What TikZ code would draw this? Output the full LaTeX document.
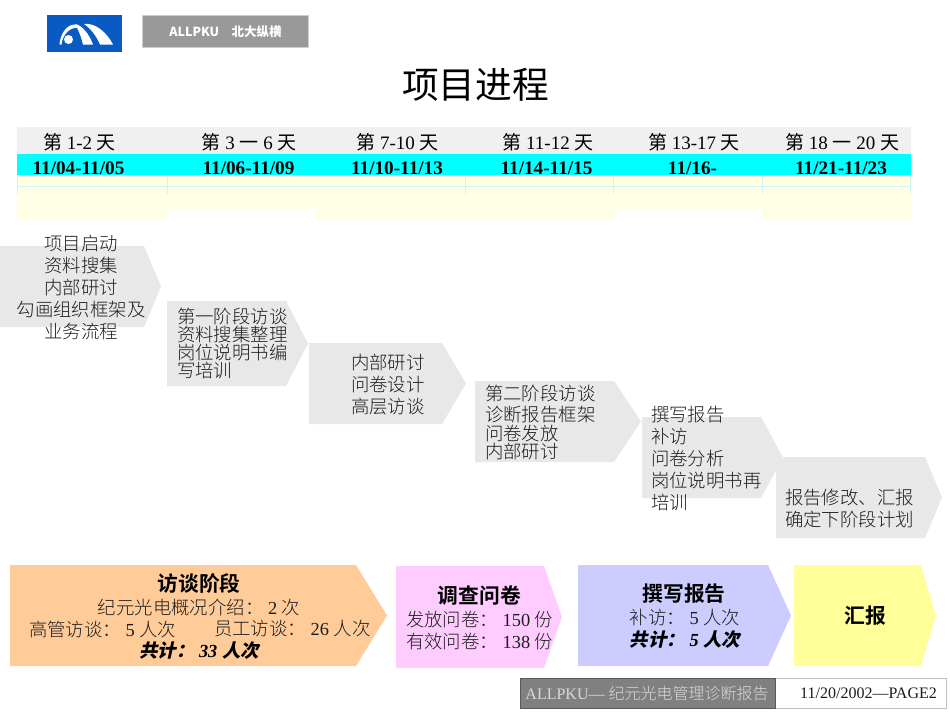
\documentclass[tikz,border=0pt]{standalone}
\usepackage{fontspec}
\setmainfont{Liberation Serif}
\newfontfamily\cjkfam{Noto Sans CJK SC}[UprightFont=* Light,BoldFont=* Bold]
\newfontfamily\cjkslant{Noto Sans CJK SC}[FakeSlant=0.22]
\newfontfamily\cjksans{Noto Sans CJK SC}
\newcommand{\zh}[1]{{\cjkfam #1}}
\newcommand{\zhr}[1]{{\cjksans #1}}
\newcommand{\zhbi}[1]{{\cjkslant\bfseries #1}}
\definecolor{headgrey}{HTML}{F0F0F0}
\definecolor{paleyellow}{HTML}{FFFFE5}
\definecolor{palecyan}{HTML}{D0F5F0}
\definecolor{stepgrey}{HTML}{E8E8E8}
\definecolor{orangefill}{HTML}{FFCC99}
\definecolor{pinkfill}{HTML}{FFCCFF}
\definecolor{bluefill}{HTML}{CCCCFF}
\definecolor{yellowfill}{HTML}{FFFF99}
\definecolor{logoblue}{HTML}{0A5AC4}
\definecolor{badgegrey}{HTML}{999999}
\definecolor{footdark}{HTML}{808080}
\definecolor{inktext}{HTML}{1C1C1C}
\definecolor{rowcyan}{HTML}{00FFFF}
\tikzset{
  txt/.style={inner sep=0pt,outer sep=0pt,text=inktext},
  bodytext/.style={txt,align=left,font=\fontsize{18.4}{22}\selectfont},
  tighttext/.style={txt,align=left,font=\fontsize{18.4}{18}\selectfont},
  centertext/.style={txt,align=center,font=\fontsize{18.4}{22}\selectfont},
  headtext/.style={inner sep=0pt,text=black,font=\fontsize{19}{22}\selectfont},
  datetext/.style={inner sep=0pt,text=black,font=\fontsize{19.2}{22}\selectfont\bfseries},
  boldtitle/.style={inner sep=0pt,text=black,font=\fontsize{20.8}{24}\selectfont\bfseries\cjkfam},
}
\begin{document}
\begin{tikzpicture}[x=1pt,y=-1pt]
\useasboundingbox (0,0) rectangle (950,713);
% logo
\fill[logoblue] (47,15) rectangle (122,52);
\fill[white] (59.5,44.5) .. controls (60.5,33) and (67,24.5) .. (75,24.5) .. controls (77,25) and (78,26) .. (79,28)
  .. controls (71,26.5) and (63,33) .. (61.5,44.5) -- cycle;
\fill[white] (68.5,39.5) circle (4.5);
\fill[white] (75,24) .. controls (82,25) and (89,34) .. (93,44.5) -- (83,44.5) .. controls (81,36) and (78,29) .. (75,24) -- cycle;
\fill[white] (84,24) .. controls (96,22.5) and (107,33) .. (113,44.5) -- (100,44.5) .. controls (96,35) and (90,28) .. (84,24) -- cycle;
% badge
\draw[fill=badgegrey,draw=black!20,line width=.8pt] (142,15.5) rectangle (308.5,47);
\node[inner sep=0pt,text=white,font=\fontsize{12.5}{15}\selectfont\sffamily\bfseries] (badge) at (225.5,32) {{\cjksans\bfseries ALLPKU\quad 北大纵横}};
% title
\node[inner sep=0pt,text=black,font=\fontsize{36.7}{40}\selectfont] (title) at (475.5,85) {\zhr{项目进程}};
% table
\fill[headgrey] (17,127) rectangle (911,154);
\fill[rowcyan] (17,154) rectangle (911,175);
\node[datetext] (d1) at (78.5,168) {11/04-11/05};
\node[datetext] (d2) at (248.5,168) {11/06-11/09};
\node[datetext] (d3) at (397,168) {11/10-11/13};
\node[datetext] (d4) at (546.5,168) {11/14-11/15};
\node[datetext] (d5) at (692.5,168) {11/16-};
\node[datetext] (d6) at (841,168) {11/21-11/23};
\fill[paleyellow] (17,175) rectangle (911,220);
\fill[white] (167,209) rectangle (316,220);
\fill[white] (615,209) rectangle (762,220);
\draw[palecyan,line width=.6pt] (17,175) -- (911,175) (17,186) -- (911,186);
\draw[palecyan,line width=.6pt] (17.3,175) -- (17.3,194) (167,175) -- (167,194) (465.5,175) -- (465.5,194)
  (613.5,175) -- (613.5,194) (762.5,175) -- (762.5,194) (910.7,175) -- (910.7,194);
\node[headtext] (h1) at (79.5,142) {\zhr{第} 1-2 \zhr{天}};
\node[headtext] (h2) at (249,142) {\zhr{第} 3 \zhr{一} 6 \zhr{天}};
\node[headtext] (h3) at (397.5,142) {\zhr{第} 7-10 \zhr{天}};
\node[headtext] (h4) at (548,142) {\zhr{第} 11-12 \zhr{天}};
\node[headtext] (h5) at (694,142) {\zhr{第} 13-17 \zhr{天}};
\node[headtext] (h6) at (842,142) {\zhr{第} 18 \zhr{一} 20 \zhr{天}};
% step arrows
\fill[stepgrey] (0,246) -- (144,246) -- (161,286.5) -- (144,327) -- (0,327) -- cycle;
\fill[stepgrey] (167,301) -- (286,301) -- (308,343.5) -- (286,386) -- (167,386) -- cycle;
\fill[stepgrey] (309,343) -- (442,343) -- (466,383.5) -- (442,424) -- (309,424) -- cycle;
\fill[stepgrey] (475,381) -- (614,381) -- (641,421.5) -- (614,462) -- (475,462) -- cycle;
\fill[stepgrey] (642,417) -- (761,417) -- (783,457.5) -- (761,498) -- (642,498) -- cycle;
\fill[stepgrey] (776,457) -- (925,457) -- (942,497.5) -- (925,538) -- (776,538) -- cycle;
\node[centertext] (s1) at (81,287.5) {\zh{项目启动}\\\zh{资料搜集}\\\zh{内部研讨}\\\zh{勾画组织框架及}\\\zh{业务流程}};
\node[tighttext,anchor=west] (s2) at (177,343) {\zh{第一阶段访谈}\\\zh{资料搜集整理}\\\zh{岗位说明书编}\\\zh{写培训}};
\node[bodytext,anchor=west] (s3) at (351,384.5) {\zh{内部研讨}\\\zh{问卷设计}\\\zh{高层访谈}};
\node[tighttext,anchor=west] (s4) at (485,422) {\zh{第二阶段访谈}\\[3pt]\zh{诊断报告框架}\\[1pt]\zh{问卷发放}\\\zh{内部研讨}};
\node[bodytext,anchor=west] (s5) at (651,458.5) {\zh{撰写报告}\\\zh{补访}\\\zh{问卷分析}\\\zh{岗位说明书再}\\\zh{培训}};
\node[bodytext,anchor=west] (s6) at (785,509) {\zh{报告修改、汇报}\\\zh{确定下阶段计划}};
% phase arrows
\fill[orangefill] (10,565) -- (356,565) -- (387,615.5) -- (356,666) -- (10,666) -- cycle;
\fill[pinkfill] (396,566) -- (544,566) -- (562,617) -- (544,668) -- (396,668) -- cycle;
\fill[bluefill] (578,565) -- (768,565) -- (791,615.5) -- (768,666) -- (578,666) -- cycle;
\fill[yellowfill] (794,565) -- (921,565) -- (936,615.5) -- (921,666) -- (794,666) -- cycle;
\node[boldtitle] (p1) at (199,584) {访谈阶段};
\node[centertext] (p1a) at (199,607) {\zh{纪元光电概况介绍：} 2 \zh{次}};
\node[centertext,anchor=west] (p1b) at (29,629) {\zh{高管访谈：} 5 \zh{人次}};
\node[centertext,anchor=west] (p1c) at (214,629) {\zh{员工访谈：} 26 \zh{人次}};
\node[centertext,text=black] (p1d) at (199,651) {\zhbi{共计：} \textbf{\textit{33}} \zhbi{人次}};
\node[boldtitle] (p2) at (479.5,596) {调查问卷};
\node[bodytext,anchor=west] (p2a) at (406,620) {\zh{发放问卷：} 150 \zh{份}};
\node[bodytext,anchor=west] (p2b) at (406,642) {\zh{有效问卷：} 138 \zh{份}};
\node[boldtitle] (p3) at (684,594) {撰写报告};
\node[centertext] (p3a) at (685,618) {\zh{补访：} 5 \zh{人次}};
\node[centertext,text=black] (p3b) at (685,640) {\zhbi{共计：} \textbf{\textit{5}} \zhbi{人次}};
\node[boldtitle] (p4) at (865,616) {汇报};
% footer
\draw[fill=white,draw=black!25,line width=.8pt] (775,678) rectangle (946.5,708);
\draw[fill=footdark,draw=black!65,line width=1pt] (520,678) rectangle (775,708);
\node[inner sep=0pt,text=black!15,font=\fontsize{16}{20}\selectfont] (f1) at (647,693.5) {ALLPKU--- \zh{纪元光电管理诊断报告}};
\node[inner sep=0pt,text=inktext,font=\fontsize{16}{20}\selectfont] (f2) at (868.5,693.5) {11/20/2002---PAGE2};
\end{tikzpicture}
\end{document}
